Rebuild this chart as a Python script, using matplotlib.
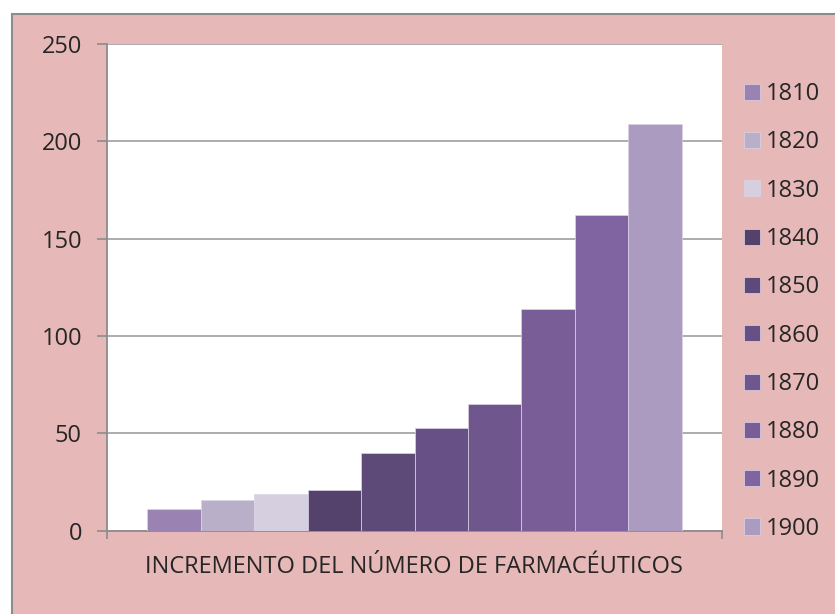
import matplotlib.pyplot as plt
from matplotlib.patches import Rectangle

years = ['1810', '1820', '1830', '1840', '1850', '1860', '1870', '1880', '1890', '1900']
values = [11, 16, 19, 21, 40, 53, 65, 114, 162, 209]
colors = ['#9A83B3', '#B9AFC9', '#D5CFDF', '#54426D', '#5E4A78',
          '#675086', '#6F568C', '#795D97', '#8064A2', '#AB9BC0']
yticks = [0, 50, 100, 150, 200, 250]
xlabel = 'INCREMENTO DEL NÚMERO DE FARMACÉUTICOS'

plt.rcParams['font.family'] = ['Open Sans', 'DejaVu Sans']

W, H = 835, 614
fig = plt.figure(figsize=(W / 100, H / 100), dpi=100, facecolor='white')

# pink chart area with grey frame
fig.patches.append(Rectangle((12 / W, -0.01), 1, 1.01 - 14 / H, transform=fig.transFigure,
                             facecolor='#E6B9B8', edgecolor='#8C8C8C', linewidth=1.5,
                             zorder=-10))

ax = fig.add_axes([107 / W, 1 - 530.7 / H, (722 - 107) / W, (530.7 - 44) / H])
ax.set_zorder(1)
ax.set_facecolor('white')

for i, (v, c, lab) in enumerate(zip(values, colors, years)):
    ax.bar(i, v, width=1.0, color=c, edgecolor='#DCD4E6', linewidth=0.5,
           label=lab, zorder=3)

ax.set_xlim(-1.25, len(values) + 0.25)
ax.set_ylim(0, 250)
ax.set_yticks(yticks)
ax.yaxis.grid(True, color='#A6A6A6', linewidth=1.3, zorder=0)
ax.tick_params(axis='y', length=7, width=1.2, color='#8C8C8C', labelsize=17,
               labelcolor='#262626', pad=11)
ax.set_xticks([-1.25, len(values) + 0.25])
ax.set_xticklabels(['', ''])
ax.tick_params(axis='x', length=6, width=1.2, color='#8C8C8C', direction='out')
for s in ['top', 'right']:
    ax.spines[s].set_visible(False)
for s in ['left', 'bottom']:
    ax.spines[s].set_color('#8C8C8C')
    ax.spines[s].set_linewidth(1.3)

fig.text(414 / W, 1 - 567 / H, xlabel, ha='center', va='center',
         fontsize=17, color='#262626')

leg = ax.legend(loc='upper left', bbox_to_anchor=(744 / W, 1 - 82 / H),
                bbox_transform=fig.transFigure, frameon=False, fontsize=17,
                handlelength=0.68, handleheight=0.68, handletextpad=0.25,
                labelspacing=1.03, borderaxespad=0, borderpad=0)
for t in leg.get_texts():
    t.set_color('#262626')

fig.savefig('out.png', dpi=100, facecolor='white')
